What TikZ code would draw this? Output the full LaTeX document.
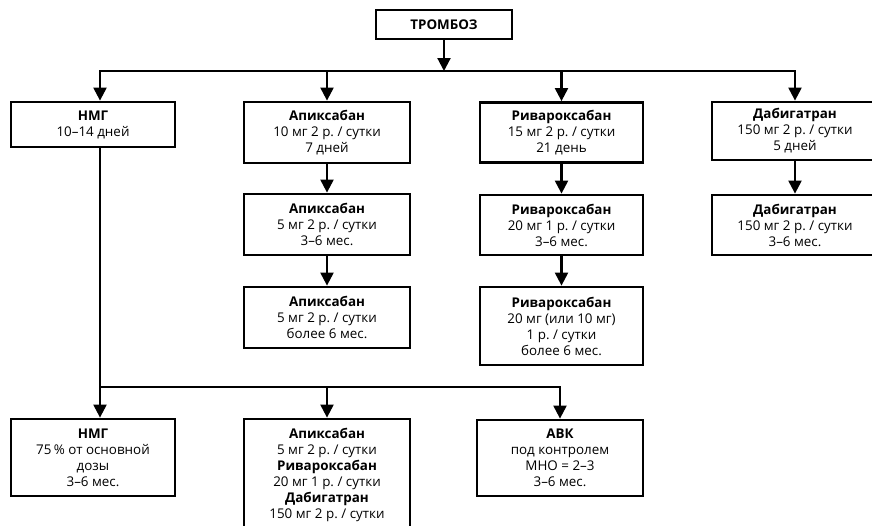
\documentclass[tikz,border=0pt]{standalone}
\usepackage{fontspec}
\setmainfont{Open Sans}
\usepackage{tikz}
\usetikzlibrary{arrows.meta}
\frenchspacing

\begin{document}
\begin{tikzpicture}[x=1pt,y=-1pt,
  box/.style={draw,line width=2.8pt,align=center,inner sep=0pt,
    font=\fontsize{13.4}{16}\selectfont},
  link/.style={line width=2.2pt,line cap=rect},
  arr/.style={link,-{Triangle[length=13pt,width=13pt]}}]
\useasboundingbox (0,0) rectangle (872,525);
\clip (0,0) rectangle (872,525);
\node[box,minimum width=136pt,minimum height=29pt] (tromb) at (444,24.5) {\textbf{ТРОМБОЗ}};
\node[box,minimum width=164pt,minimum height=45pt] (nmg1) at (93,124.5) {\textbf{НМГ}\\10–14 дней};
\node[box,minimum width=166pt,minimum height=61pt] (apix1) at (327,132.5) {\textbf{Апиксабан}\\10 мг 2 р. / сутки\\7 дней};
\node[box,minimum width=166pt,minimum height=61pt] (apix2) at (327,224.5) {\textbf{Апиксабан}\\5 мг 2 р. / сутки\\3–6 мес.};
\node[box,minimum width=166pt,minimum height=61pt] (apix3) at (327,317.5) {\textbf{Апиксабан}\\5 мг 2 р. / сутки\\более 6 мес.};
\node[box,minimum width=163pt,minimum height=60pt] (riv1) at (561.5,132.5) {\textbf{Ривароксабан}\\15 мг 2 р. / сутки\\21 день};
\node[box,minimum width=163pt,minimum height=60pt] (riv2) at (561.5,225) {\textbf{Ривароксабан}\\20 мг 1 р. / сутки\\3–6 мес.};
\node[box,minimum width=163pt,minimum height=78pt] (riv3) at (561.5,326) {\textbf{Ривароксабан}\\20 мг (или 10 мг)\\1 р. / сутки\\более 6 мес.};
\node[box,minimum width=166pt,minimum height=58pt] (dab1) at (795,131) {\textbf{Дабигатран}\\150 мг 2 р. / сутки\\5 дней};
\node[box,minimum width=166pt,minimum height=60pt] (dab2) at (795,225) {\textbf{Дабигатран}\\150 мг 2 р. / сутки\\3–6 мес.};
\node[box,minimum width=164pt,minimum height=77pt] (nmg2) at (93,457.5) {\textbf{НМГ}\\75\,\% от основной\\дозы\\3–6 мес.};
\node[box,minimum width=166pt,minimum height=112pt] (mix) at (327,475) {\textbf{Апиксабан}\\5 мг 2 р. / сутки\\\textbf{Ривароксабан}\\20 мг 1 р. / сутки\\\textbf{Дабигатран}\\150 мг 2 р. / сутки};
\node[box,minimum width=166pt,minimum height=76pt] (avk) at (560,458) {\textbf{АВК}\\под контролем\\МНО = 2–3\\3–6 мес.};
\coordinate (j0) at (444,71);
\coordinate (j1) at (100,71);
\coordinate (j4) at (795,71);
\coordinate (k1) at (100,387);
\coordinate (k3) at (560,387);
% upper level
\draw[arr] (tromb.south) -- (j0);
\draw[link] (j1) -- (j4);
\draw[arr] (j1) -- (nmg1.north -| j1);
\draw[arr] (apix1.north |- j1) -- (apix1.north);
\draw[arr] (riv1.north |- j1) -- (riv1.north);
\draw[arr] (j4) -- (dab1.north);
\draw[arr] (apix1) -- (apix2);
\draw[arr] (apix2) -- (apix3);
\draw[arr] (riv1) -- (riv2);
\draw[arr] (riv2) -- (riv3);
\draw[arr] (dab1) -- (dab2);
% lower level
\draw[link] (nmg1.south -| k1) -- (k1) -- (k3);
\draw[arr] (k1) -- (nmg2.north -| k1);
\draw[arr] (mix.north |- k1) -- (mix.north);
\draw[arr] (k3) -- (avk.north -| k3);
\end{tikzpicture}
\end{document}
